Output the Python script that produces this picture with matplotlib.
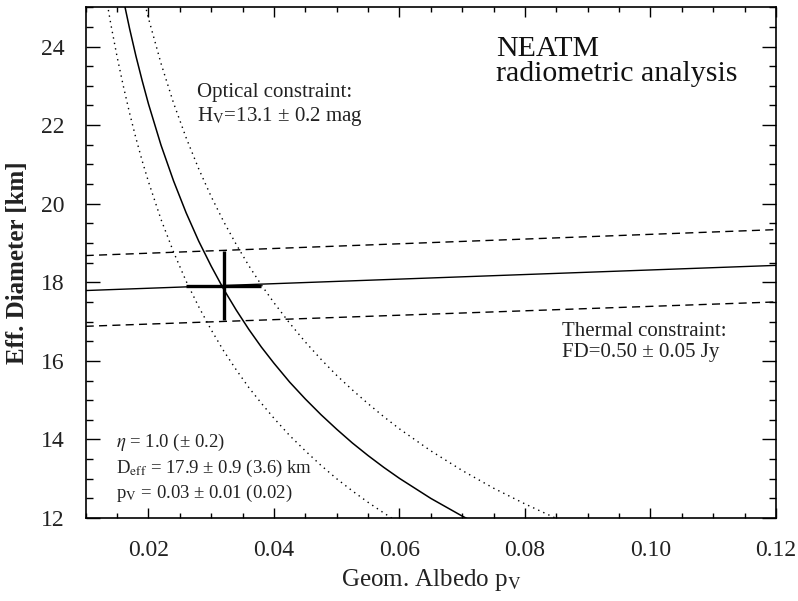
import matplotlib
matplotlib.use("Agg")
import matplotlib.pyplot as plt
from matplotlib.ticker import MultipleLocator

plt.rcParams['font.family'] = ['Liberation Serif', 'DejaVu Serif']
plt.rcParams['mathtext.fontset'] = 'stix'

albedo = [0.013, 0.014, 0.015, 0.016, 0.017, 0.018, 0.019, 0.020, 0.022, 0.024,
          0.026, 0.028, 0.030, 0.032, 0.034, 0.036, 0.038, 0.040, 0.0425, 0.045,
          0.0475, 0.050, 0.0525, 0.055, 0.0575, 0.060, 0.065, 0.070, 0.075, 0.080, 0.085]
d_opt_mid = [27.96, 26.94, 26.03, 25.20, 24.45, 23.76, 23.13, 22.54, 21.49, 20.58,
             19.77, 19.05, 18.41, 17.82, 17.29, 16.80, 16.35, 15.94, 15.46, 15.03,
             14.63, 14.26, 13.91, 13.59, 13.29, 13.01, 12.50, 12.05, 11.64, 11.27, 10.93]
d_opt_hi = [30.66, 29.54, 28.54, 27.64, 26.81, 26.05, 25.36, 24.72, 23.57, 22.56,
            21.68, 20.89, 20.18, 19.54, 18.96, 18.42, 17.93, 17.48, 16.96, 16.48,
            16.04, 15.63, 15.26, 14.91, 14.58, 14.27, 13.71, 13.21, 12.76, 12.36, 11.99]
d_opt_lo = [25.50, 24.57, 23.74, 22.99, 22.30, 21.67, 21.09, 20.56, 19.60, 18.77,
            18.03, 17.38, 16.79, 16.25, 15.77, 15.32, 14.92, 14.54, 14.10, 13.71,
            13.34, 13.00, 12.69, 12.40, 12.13, 11.87, 11.40, 10.99, 10.62, 10.28, 9.97]

# thermal constraint lines
albedo_th = [0.01, 0.065, 0.12]
d_th_mid = [17.79, 18.11, 18.43]
d_th_hi = [18.68, 19.01, 19.34]
d_th_lo = [16.88, 17.19, 17.50]

# best solution
p_best, p_lo, p_hi = 0.032, 0.026, 0.038
d_best, d_lo, d_hi = 17.9, 17.05, 18.8

fig = plt.figure(figsize=(7.98, 6.01), dpi=100)
ax = fig.add_axes([0.1074, 0.138, 0.865, 0.85])

dots = (0, (1, 3))
dashes = (0, (5.8, 3.8))
ax.plot(albedo, d_opt_mid, color='black', lw=1.1)
ax.plot(albedo, d_opt_hi, color='black', lw=1.0, linestyle=dots)
ax.plot(albedo, d_opt_lo, color='black', lw=1.0, linestyle=dots)

ax.plot(albedo_th, d_th_mid, color='black', lw=1.0)
ax.plot(albedo_th, d_th_hi, color='black', lw=1.0, linestyle=dashes)
ax.plot(albedo_th, d_th_lo, color='black', lw=1.0, linestyle=dashes)

# error cross
ax.plot([p_lo, p_hi], [d_best, d_best], color='black', lw=2.4, solid_capstyle='butt')
ax.plot([p_best, p_best], [d_lo, d_hi], color='black', lw=2.4, solid_capstyle='butt')

ax.set_xlim(0.01, 0.12)
ax.set_ylim(12, 25)
ax.xaxis.set_minor_locator(MultipleLocator(0.005))
ax.yaxis.set_major_locator(MultipleLocator(2))
ax.yaxis.set_minor_locator(MultipleLocator(0.5))
ax.set_xticks([0.02, 0.04, 0.06, 0.08, 0.10, 0.12])
ax.set_xticklabels(['0.02', '0.04', '0.06', '0.08', '0.10', '0.12'])

ax.tick_params(axis='both', which='both', direction='in', top=True, right=True,
               colors='black', labelcolor='#222222', labelsize=17, width=1.0)
ax.tick_params(axis='x', which='major', length=7, pad=16)
ax.tick_params(axis='x', which='minor', length=3.6)
ax.tick_params(axis='y', which='major', length=10, pad=15)
ax.tick_params(axis='y', which='minor', length=5)
for s in ax.spines.values():
    s.set_linewidth(1.2)

ax.set_xlabel('Geom. Albedo p$_\\mathrm{V}$', fontsize=18, color='#222222', labelpad=4)
ax.set_ylabel('Eff. Diameter [km]', fontsize=18, fontweight='bold', color='#222222', labelpad=9)

ax.text(0.0754, 23.63, 'NEATM\nradiometric analysis', fontsize=21.5, color='#111111',
        va='center', linespacing=0.95)
ax.text(0.0278, 22.5, 'Optical constraint:\nH$_\\mathrm{V}$=13.1 ± 0.2 mag', fontsize=15,
        color='#222222', va='center', linespacing=1.15)
ax.text(0.0859, 16.47, 'Thermal constraint:\nFD=0.50 ± 0.05 Jy', fontsize=15,
        color='#222222', va='center', linespacing=1.15)
ax.text(0.0148, 13.27, '$\\eta$ = 1.0 (± 0.2)\nD$_\\mathrm{eff}$ = 17.9 ± 0.9 (3.6) km\n'
        'p$_\\mathrm{V}$ = 0.03 ± 0.01 (0.02)', fontsize=13.5, color='#222222',
        va='center', linespacing=1.3)

fig.savefig('out.png', dpi=100)
